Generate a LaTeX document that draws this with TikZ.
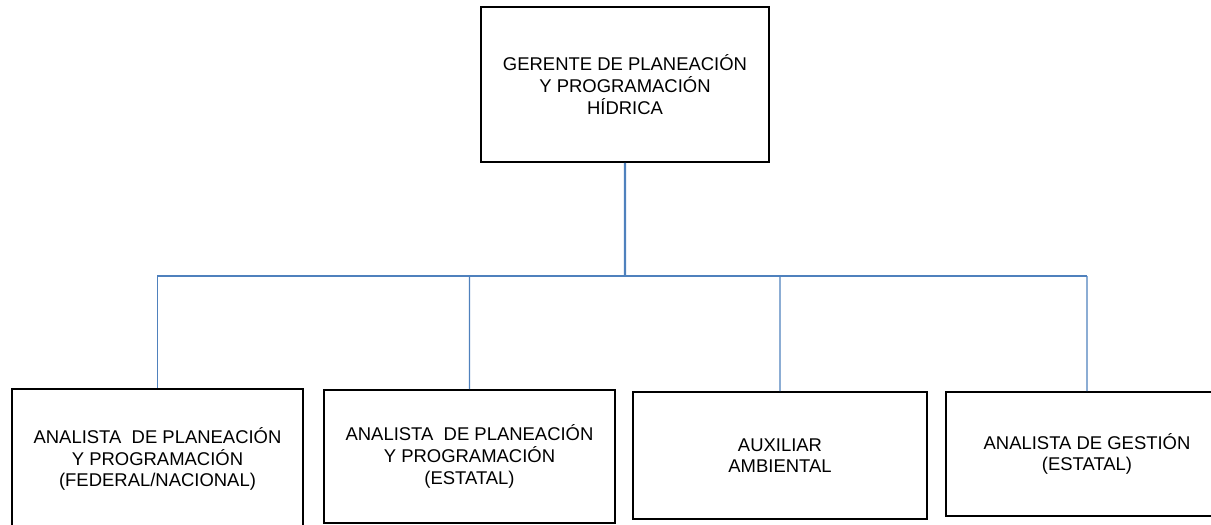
\documentclass[tikz,border=0pt]{standalone}
\usepackage{fontspec}
\setmainfont{Liberation Sans}
\usepackage{xcolor}
\definecolor{azul}{RGB}{79,129,189}

\begin{document}
\begin{tikzpicture}[scale=0.2]
\tikzstyle{every node}+=[inner sep=0pt]
\tikzstyle{puesto}=[draw=black, line width=1.1pt, align=center, font=\fontsize{10.5}{12.3}\selectfont]
\tikzstyle{enlace}=[draw=azul, line width=0.7pt]
\useasboundingbox (0,0) rectangle (121.1,-52.4);
\clip (0,0) rectangle (121.1,-52.4);
\draw (62.5,-8.45) node [puesto, minimum width=5.76cm, minimum height=3.1cm] (gerente) {GERENTE DE PLANEACIÓN\\Y PROGRAMACIÓN\\HÍDRICA};
\draw (15.75,-45.9) node [puesto, minimum width=5.82cm, minimum height=2.8cm] (anaFed) {ANALISTA\ \ DE PLANEACIÓN\\Y PROGRAMACIÓN\\(FEDERAL/NACIONAL)};
\draw (46.95,-45.65) node [puesto, minimum width=5.82cm, minimum height=2.66cm] (anaEst) {ANALISTA\ \ DE PLANEACIÓN\\Y PROGRAMACIÓN\\(ESTATAL)};
\draw (78,-45.55) node [puesto, minimum width=5.88cm, minimum height=2.54cm] (auxAmb) {AUXILIAR\\AMBIENTAL};
\draw (108.7,-45.4) node [puesto, minimum width=5.64cm, minimum height=2.48cm] (anaGes) {ANALISTA DE GESTIÓN\\(ESTATAL)};
\coordinate (bus) at (62.5,-27.6);
\draw [enlace, line width=1.4pt] (gerente) -- (bus);
\draw [enlace, line width=1pt] (bus -| anaFed) -- (bus -| anaGes);
\draw [enlace] (bus -| anaFed) -- (anaFed);
\draw [enlace] (bus -| anaEst) -- (anaEst);
\draw [enlace] (bus -| auxAmb) -- (auxAmb);
\draw [enlace] (bus -| anaGes) -- (anaGes);
\end{tikzpicture}
\end{document}
